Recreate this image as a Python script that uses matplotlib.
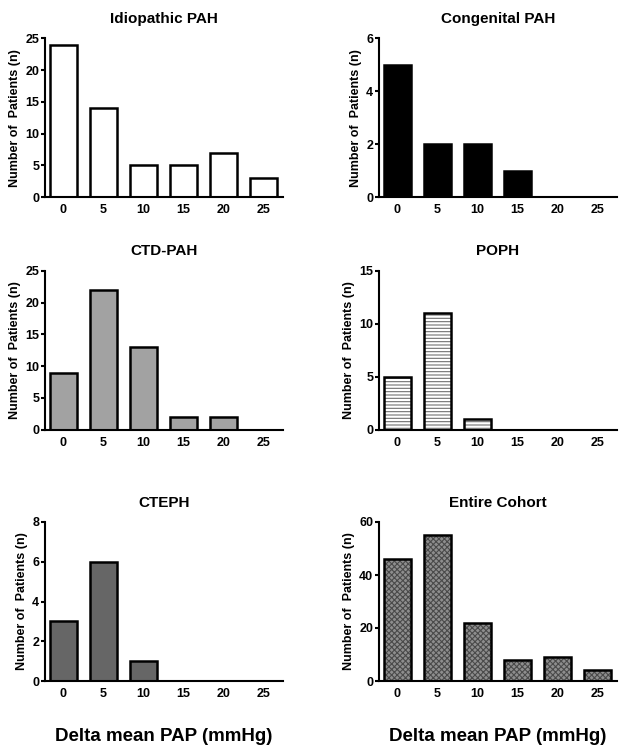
import matplotlib
matplotlib.use('Agg')
import matplotlib.pyplot as plt
import numpy as np

plt.rcParams['font.family'] = ['Liberation Sans', 'DejaVu Sans']
plt.rcParams['font.weight'] = 'bold'
plt.rcParams['hatch.linewidth'] = 0.8

delta_bins = [0, 5, 10, 15, 20, 25]

idiopathic = [24, 14, 5, 5, 7, 3]
congenital = [5, 2, 2, 1, 0, 0]
ctd_pah = [9, 22, 13, 2, 2, 0]
poph = [5, 11, 1, 0, 0, 0]
cteph = [3, 6, 1, 0, 0, 0]
entire = [46, 55, 22, 8, 9, 4]

titles = ['Idiopathic PAH', 'Congenital PAH', 'CTD-PAH', 'POPH', 'CTEPH', 'Entire Cohort']
series = [idiopathic, congenital, ctd_pah, poph, cteph, entire]
y_max = [25, 6, 25, 15, 8, 60]
y_step = [5, 2, 5, 5, 2, 20]

# fill, hatch, hatch colour
styles = [
    ('white', None, None),
    ('black', None, None),
    ('#a2a2a2', None, None),
    ('white', '-----', '#707070'),
    ('#666666', None, None),
    ('#8e8e8e', 'xxxxxx', '#4a4a4a'),
]

fig = plt.figure(figsize=(6.24, 7.5), dpi=100, facecolor='white')

lefts = [0.072, 0.607]
width = 0.382
bottoms = [0.737, 0.427, 0.092]
height = 0.212

for i, (title, vals) in enumerate(zip(titles, series)):
    r, c = divmod(i, 2)
    ax = fig.add_axes([lefts[c], bottoms[r], width, height])
    fill, hatch, hcol = styles[i]
    x = np.array(delta_bins)
    if hatch:
        ax.bar(x, vals, width=3.4, color=fill, hatch=hatch, edgecolor=hcol, lw=0)
        ax.bar(x, vals, width=3.4, fill=False, edgecolor='black', lw=1.8)
    else:
        ax.bar(x, vals, width=3.4, color=fill, edgecolor='black', lw=1.8)
    ax.set_xlim(-2.3, 27.5)
    ax.set_ylim(0, y_max[i])
    ax.set_yticks(np.arange(0, y_max[i] + 1, y_step[i]))
    ax.set_xticks(delta_bins)
    ax.set_xticklabels([str(b) for b in delta_bins])
    for s in ['top', 'right']:
        ax.spines[s].set_visible(False)
    for s in ['left', 'bottom']:
        ax.spines[s].set_linewidth(1.5)
    ax.tick_params(axis='y', length=3, width=1.5, labelsize=9, pad=1)
    ax.tick_params(axis='x', length=0, labelsize=9, pad=5)
    ax.set_title(title, fontsize=11, fontweight='bold', pad=11)
    ax.set_ylabel('Number of  Patients (n)', fontsize=9, fontweight='bold', labelpad=3)
    if r == 2:
        ax.set_xlabel('Delta mean PAP (mmHg)', fontsize=13.5, fontweight='bold', labelpad=20)

fig.savefig('out.png', dpi=100, facecolor='white')
